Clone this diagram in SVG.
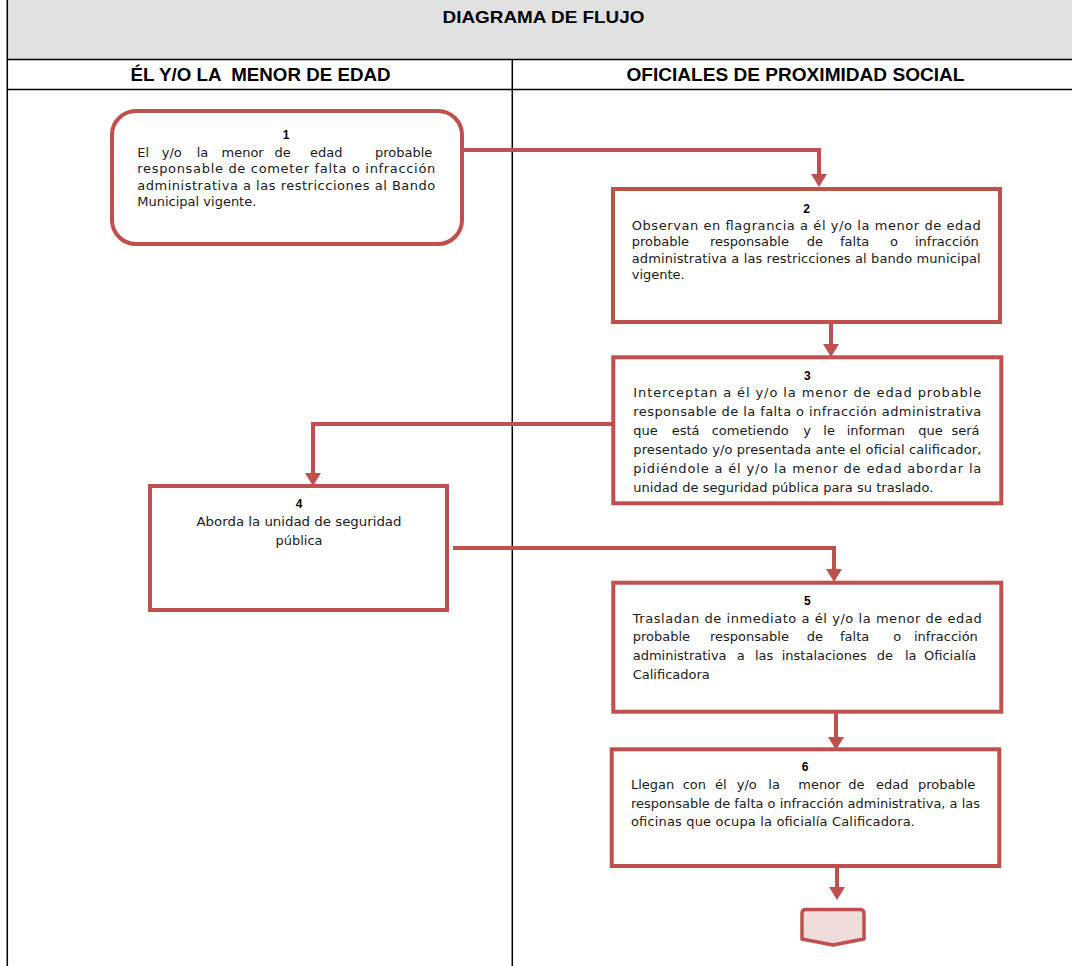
<svg xmlns="http://www.w3.org/2000/svg" width="1072" height="966" viewBox="0 0 1072 966">
<style>
.lane{stroke:#000;stroke-width:1.5;fill:none}
.hdr{font-family:"Liberation Sans",Arial,sans-serif;font-weight:bold;fill:#000;text-anchor:middle}
.box{fill:#fff;stroke:#c0504d;stroke-width:4}
.num{font-family:"Liberation Sans",Arial,sans-serif;font-weight:bold;font-size:12px;fill:#000;text-anchor:middle}
.t{font-family:"DejaVu Sans","Liberation Sans",sans-serif;font-size:13px;fill:#1a1a1a}
.c{text-anchor:middle}
.conn{fill:none;stroke:#c0504d;stroke-width:4}
</style>
<defs>
<marker id="ah" markerUnits="userSpaceOnUse" markerWidth="14" markerHeight="16" refX="1" refY="8" orient="auto">
<path d="M0,0 L13,8 L0,16 z" fill="#c0504d"/>
</marker>
</defs>
<g id="lanes">
<rect x="7" y="0" width="1070" height="59.5" fill="#e1e1e1"/>
<line class="lane" x1="7.3" y1="0" x2="7.3" y2="966"/>
<line class="lane" x1="7" y1="59.5" x2="1072" y2="59.5"/>
<line class="lane" x1="7" y1="89.5" x2="1072" y2="89.5"/>
<line class="lane" x1="512.3" y1="59.5" x2="512.3" y2="966"/>
<text class="hdr" x="543.5" y="23" font-size="16.5" textLength="202" lengthAdjust="spacingAndGlyphs">DIAGRAMA DE FLUJO</text>
<text class="hdr" x="260.5" y="81" font-size="18" textLength="260" lengthAdjust="spacingAndGlyphs" style="white-space:pre">ÉL Y/O LA  MENOR DE EDAD</text>
<text class="hdr" x="795.5" y="81" font-size="18" textLength="338" lengthAdjust="spacingAndGlyphs">OFICIALES DE PROXIMIDAD SOCIAL</text>
</g>
<g id="connectors">
<path class="conn" d="M462,150 H819 V175" marker-end="url(#ah)"/>
<path class="conn" d="M831,322 V345" marker-end="url(#ah)"/>
<path class="conn" d="M613,424 H313 V474" marker-end="url(#ah)"/>
<path class="conn" d="M453,548 H834 V570" marker-end="url(#ah)"/>
<path class="conn" d="M836,712 V738" marker-end="url(#ah)"/>
<path class="conn" d="M837,866 V888" marker-end="url(#ah)"/>
</g>
<g id="node1">
<rect class="box" x="112" y="111" width="350" height="133" rx="24"/>
<text class="num" x="286" y="139">1</text>
<text class="t" y="157"><tspan x="137.3">El</tspan><tspan x="161.7">y/o</tspan><tspan x="196.7">la</tspan><tspan x="221.5">menor</tspan><tspan x="274.5">de</tspan><tspan x="310">edad</tspan><tspan x="375">probable</tspan></text>
<text class="t" x="137.3" y="173" textLength="298" lengthAdjust="spacing">responsable de cometer falta o infracción</text>
<text class="t" x="137.3" y="189.5" textLength="298" lengthAdjust="spacing">administrativa a las restricciones al Bando</text>
<text class="t" x="137.3" y="205.5">Municipal vigente.</text>
</g>
<g id="node2">
<rect class="box" x="613" y="189" width="387" height="133"/>
<text class="num" x="806.7" y="213">2</text>
<text class="t" x="631.7" y="229.5" textLength="349" lengthAdjust="spacing">Observan en flagrancia a él y/o la menor de edad</text>
<text class="t" y="246"><tspan x="631.7">probable</tspan><tspan x="710">responsable</tspan><tspan x="806.7">de</tspan><tspan x="840">falta</tspan><tspan x="890">o</tspan><tspan x="915">infracción</tspan></text>
<text class="t" x="631.7" y="262.5" textLength="349" lengthAdjust="spacing">administrativa a las restricciones al bando municipal</text>
<text class="t" x="631.7" y="279">vigente.</text>
</g>
<g id="node3">
<rect class="box" x="613.3" y="357.3" width="388" height="146"/>
<text class="num" x="807.3" y="379.5">3</text>
<text class="t" x="633.3" y="397" textLength="348" lengthAdjust="spacing">Interceptan a él y/o la menor de edad probable</text>
<text class="t" x="633.3" y="416" textLength="348" lengthAdjust="spacing">responsable de la falta o infracción administrativa</text>
<text class="t" y="435"><tspan x="633.3">que</tspan><tspan x="671.7">está</tspan><tspan x="711.7">cometiendo</tspan><tspan x="803.3">y</tspan><tspan x="823.3">le</tspan><tspan x="846.7">informan</tspan><tspan x="918.3">que</tspan><tspan x="951.5">será</tspan></text>
<text class="t" x="633.3" y="454" textLength="348" lengthAdjust="spacing">presentado y/o presentada ante el oficial calificador,</text>
<text class="t" x="633.3" y="473" textLength="348" lengthAdjust="spacing">pidiéndole a él y/o la menor de edad abordar la</text>
<text class="t" x="633.3" y="492" textLength="300" lengthAdjust="spacing">unidad de seguridad pública para su traslado.</text>
</g>
<g id="node4">
<rect class="box" x="150" y="486" width="297" height="124"/>
<text class="num" x="299" y="508">4</text>
<text class="t c" x="299" y="526" textLength="205" lengthAdjust="spacingAndGlyphs">Aborda la unidad de seguridad</text>
<text class="t c" x="299" y="545">pública</text>
</g>
<g id="node5">
<rect class="box" x="613.3" y="582.7" width="388" height="129"/>
<text class="num" x="807.3" y="605">5</text>
<text class="t" x="632.7" y="623" textLength="349" lengthAdjust="spacing">Trasladan de inmediato a él y/o la menor de edad</text>
<text class="t" y="641"><tspan x="632.7">probable</tspan><tspan x="710">responsable</tspan><tspan x="806.7">de</tspan><tspan x="840">falta</tspan><tspan x="893.3">o</tspan><tspan x="914">infracción</tspan></text>
<text class="t" y="659.5"><tspan x="632.7">administrativa</tspan><tspan x="736.7">a</tspan><tspan x="755">las</tspan><tspan x="781.7">instalaciones</tspan><tspan x="876.7">de</tspan><tspan x="905">la</tspan><tspan x="924">Oficialía</tspan></text>
<text class="t" x="632.7" y="678.5">Calificadora</text>
</g>
<g id="node6">
<rect class="box" x="611.7" y="749.3" width="387.6" height="116.7"/>
<text class="num" x="805" y="771">6</text>
<text class="t" y="788.5"><tspan x="631">Llegan</tspan><tspan x="682.7">con</tspan><tspan x="715">él</tspan><tspan x="736.7">y/o</tspan><tspan x="768.3">la</tspan><tspan x="798.3">menor</tspan><tspan x="848.3">de</tspan><tspan x="876">edad</tspan><tspan x="918">probable</tspan></text>
<text class="t" x="631" y="807.5" textLength="349" lengthAdjust="spacing">responsable de falta o infracción administrativa, a las</text>
<text class="t" x="631" y="826" textLength="284" lengthAdjust="spacing">oficinas que ocupa la oficialía Calificadora.</text>
</g>
<g id="offpage">
<path d="M806,909.5 H860 Q864,909.5 864,913.5 V939 L833,945 L802,939 V913.5 Q802,909.5 806,909.5 Z" fill="#f2dcdb" stroke="#c0504d" stroke-width="3.5" stroke-linejoin="round"/>
</g>
</svg>
